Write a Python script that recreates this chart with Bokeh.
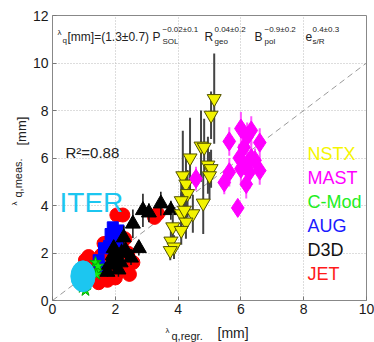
from bokeh.plotting import figure
from bokeh.models import Range1d, Label, FixedTicker
from bokeh.core.properties import value
from bokeh.embed import file_html
from bokeh.resources import INLINE
import numpy as np

# ---------------- data ----------------
nstx_x = [5.15, 5.05, 4.73, 4.83, 4.38, 4.95, 5.05, 5.0, 4.15, 4.25, 4.3, 4.1, 4.8, 4.47, 4.1, 4.25, 3.83, 4.1, 3.77, 3.87, 4.2, 3.75]
nstx_y = [8.5, 7.8, 6.5, 6.45, 6.0, 5.7, 5.55, 5.25, 5.25, 4.9, 4.5, 4.2, 4.1, 3.65, 3.65, 3.3, 3.1, 2.95, 2.5, 2.25, 3.8, 2.1]
nstx_e = [1.9, 1.0, 1.5, 1.2, 1.7, 1.2, 0.8, 1.0, 1.9, 1.2, 1.0, 0.8, 1.3, 0.8, 0.9, 0.7, 0.6, 0.6, 0.5, 0.5, 0.6, 0.4]

mast_x = [5.63, 6.0, 6.33, 6.6, 6.1, 5.95, 6.33, 6.2, 6.6, 6.0, 6.27, 5.63, 6.17, 5.9, 4.57, 5.47, 6.45, 6.2]
mast_y = [6.7, 7.24, 7.16, 6.65, 6.45, 6.0, 6.0, 5.75, 5.47, 5.55, 5.4, 5.4, 4.9, 3.9, 5.13, 4.97, 5.9, 6.9]
mast_e = [0.6, 0.7, 0.6, 0.6, 0.7, 0.6, 0.7, 0.6, 0.6, 0.6, 0.7, 0.6, 0.6, 0.3, 0.5, 0.5, 0.5, 0.6]

cmod_x = [1.37, 1.43, 1.45, 1.05, 0.96, 1.4]
cmod_y = [1.6, 1.26, 1.45, 0.42, 0.55, 1.1]

aug_x = [1.92, 2.1, 1.95, 1.8, 1.64, 1.47, 2.1, 1.5, 1.85]
aug_y = [3.08, 2.95, 2.5, 2.3, 2.2, 1.7, 2.3, 1.4, 2.8]

d3d_x = [3.45, 3.77, 2.88, 3.07, 2.56, 2.27, 2.75, 1.92, 2.33, 2.0, 1.8, 2.17, 2.5, 1.75, 2.1, 2.2, 1.95]
d3d_y = [4.08, 3.8, 3.8, 3.7, 3.23, 2.65, 2.2, 1.9, 2.1, 1.7, 1.5, 1.6, 1.8, 1.2, 1.3, 2.0, 2.2]
d3d_e = [0.5, 0.4, 0.7, 0.4, 0.6, 0.5, 0.3, 0.3, 0.3, 0.3, 0.3, 0.3, 0.3, 0.2, 0.3, 0.4, 0.3]

jet_x = [2.24, 3.35, 1.05, 1.64, 1.6, 1.85, 1.47, 2.33, 2.56, 1.2, 1.83, 2.4, 2.0, 1.3, 2.2, 3.25,
         2.05, 1.75, 2.1, 2.45, 1.55, 2.3, 1.15, 1.95]
jet_y = [3.6, 3.65, 1.7, 2.4, 0.97, 1.05, 0.75, 1.35, 1.6, 1.1, 2.5, 2.0, 0.95, 1.35, 2.2, 3.5,
         3.6, 0.85, 1.2, 1.1, 1.9, 2.6, 1.85, 2.1]

iter_x = [0.97]
iter_y = [1.02]
iter_w = [0.77]
iter_h = [1.3]

ref_line = [0, 10]
x_ticks = [0, 2, 4, 6, 8, 10]
y_ticks = [0, 2, 4, 6, 8, 10, 12]

legend_names = ["NSTX", "MAST", "C-Mod", "AUG", "D3D", "JET"]
legend_colors = ["#f5f500", "#ff00ff", "#22ee22", "#1a1aff", "#111111", "#ff1a1a"]

FONT = "Liberation Sans"

p = figure(width=374, height=342, output_backend="svg", toolbar_location=None,
           x_range=Range1d(0, 10), y_range=Range1d(0, 12),
           min_border_left=52, min_border_right=8, min_border_top=15, min_border_bottom=42)
p.background_fill_color = "white"
p.border_fill_color = "white"
p.outline_line_color = "#888888"
p.outline_line_width = 1

for ax in (p.xaxis, p.yaxis):
    ax.axis_line_color = None
    ax.major_tick_in = 4
    ax.major_tick_out = 0
    ax.minor_tick_line_color = None
    ax.major_tick_line_color = "#777777"
    ax.major_label_text_font = FONT
    ax.major_label_text_font_size = "14px"
    ax.major_label_text_color = "#1a1a1a"
p.xaxis.ticker = FixedTicker(ticks=x_ticks)
p.yaxis.ticker = FixedTicker(ticks=y_ticks)
p.xaxis.major_label_standoff = 3
p.yaxis.major_label_standoff = 4

for g in (p.xgrid, p.ygrid):
    g.grid_line_color = "#bbbbbb"
    g.grid_line_dash = "1 2"
    g.grid_line_width = 1

# reference y = x line
p.line(ref_line, ref_line, line_color="#999999", line_dash="6 4", line_width=1)

def bars(xs, ys, es, color, width):
    xs = np.array(xs); ys = np.array(ys); es = np.array(es)
    p.segment(x0=xs, y0=ys - es, x1=xs, y1=ys + es, line_color=color, line_width=width)

# JET
p.scatter(jet_x, jet_y, marker="circle", size=14, fill_color="#ff0000", line_color="#ff0000")
# AUG
p.scatter(aug_x, aug_y, marker="square", size=11, fill_color="#0000ff", line_color="#0000ff")
# C-Mod
p.scatter(cmod_x, cmod_y, marker="star", size=12, fill_color="#11ee11", line_color="#00aa00")
# D3D
bars(d3d_x, d3d_y, d3d_e, "#111111", 1.5)
p.scatter(d3d_x, d3d_y, marker="triangle", size=15, fill_color="#000000", line_color="#000000")
# NSTX
bars(nstx_x, nstx_y, nstx_e, "#444444", 2)
p.scatter(nstx_x, nstx_y, marker="inverted_triangle", size=14, fill_color="#f2f200", line_color="#505000")
# MAST
bars(mast_x, mast_y, mast_e, "#ff55ff", 2)
p.scatter(mast_x, mast_y, marker="diamond", size=19, fill_color="#ff00ff", line_color="#ff00ff")
# ITER
p.ellipse(iter_x, iter_y, width=iter_w, height=iter_h, fill_color="#1cc6f0", line_color="#1cc6f0")

# ---------------- texts (positions in page pixels) ----------------
X0, SX, Y0, SY = 52.0, 31.4, 300.0, 23.75

def lab(text, ax, ay, size, color="#222222", angle=0.0):
    p.add_layout(Label(x=(ax - X0) / SX, y=(Y0 - ay) / SY, text=text,
                       text_font=FONT, text_font_size=f"{size}px", text_color=color,
                       angle=angle, text_align="left", text_baseline="alphabetic"))

def outer_text(text, ax, ay, size, angle=0.0):
    # text outside the frame: overlay level text glyph (not clipped)
    p.text(x=[(ax - X0) / SX], y=[(Y0 - ay) / SY], text=[text], angle=angle,
           text_font=value(FONT), text_font_size=f"{size}px", text_color="#222222",
           text_align="left", text_baseline="alphabetic", level="overlay")

# formula
lab("λ", 57, 32, 8)
lab("q", 62, 40, 8)
lab("[mm]=(1.3±0.7) P", 67, 36, 12)
lab("−0.02±0.1", 162, 29, 8)
lab("SOL", 162, 41, 8)
lab("R", 204, 36, 12)
lab("0.04±0.2", 214, 29, 8)
lab("geo", 214, 41, 8)
lab("B", 254, 36, 12)
lab("−0.9±0.2", 264, 29, 8)
lab("pol", 264, 41, 8)
lab("e", 305, 36, 12)
lab("0.4±0.3", 312, 29, 8)
lab("s/R", 312, 41, 8)

# R^2
lab("R²=0.88", 65, 152, 15)
# ITER
lab("ITER", 59, 202, 28, color="#1cc6f0")

# legend texts
base_y = [153, 177, 201, 225, 249, 273]
for name, col, by in zip(legend_names, legend_colors, base_y):
    lab(name, 307, by, 18, color=col)

# y axis label (rotated)
ang = np.pi / 2
outer_text("λ", 14, 205, 8, angle=ang)
outer_text("q,meas.", 17, 197, 11, angle=ang)
outer_text("[mm]", 21, 145, 13, angle=ang)

# x axis label
outer_text("λ", 165, 330, 8)
outer_text("q,regr.", 171, 335, 11)
outer_text("[mm]", 217, 332, 14)

open("out.html", "w").write(file_html(p, INLINE))
